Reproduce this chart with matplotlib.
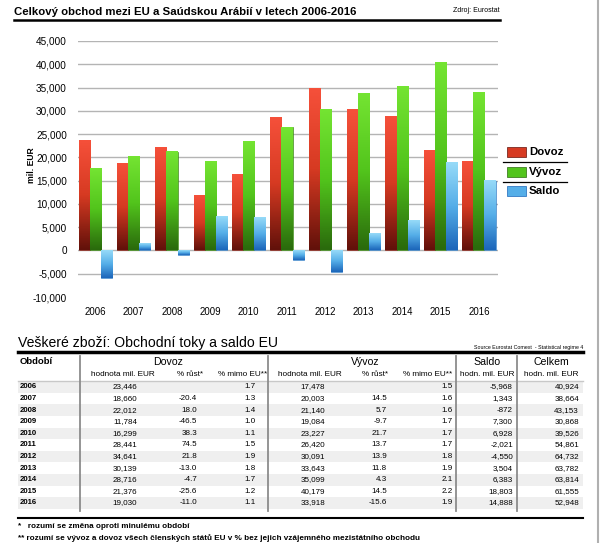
import numpy as np
import matplotlib
matplotlib.use("Agg")
import matplotlib.pyplot as plt
from matplotlib.colors import LinearSegmentedColormap
from matplotlib.patches import Rectangle

plt.rcParams['font.family'] = ['Liberation Sans', 'DejaVu Sans']

# data
roky = ['2006', '2007', '2008', '2009', '2010', '2011', '2012', '2013', '2014', '2015', '2016']
dovoz = [23446, 18660, 22012, 11784, 16299, 28441, 34641, 30139, 28716, 21376, 19030]
dovoz_rust = ['', '-20.4', '18.0', '-46.5', '38.3', '74.5', '21.8', '-13.0', '-4.7', '-25.6', '-11.0']
dovoz_mimo = ['1.7', '1.3', '1.4', '1.0', '1.1', '1.5', '1.9', '1.8', '1.7', '1.2', '1.1']
vyvoz = [17478, 20003, 21140, 19084, 23227, 26420, 30091, 33643, 35099, 40179, 33918]
vyvoz_rust = ['', '14.5', '5.7', '-9.7', '21.7', '13.7', '13.9', '11.8', '4.3', '14.5', '-15.6']
vyvoz_mimo = ['1.5', '1.6', '1.6', '1.7', '1.7', '1.7', '1.8', '1.9', '2.1', '2.2', '1.9']
saldo = [-5968, 1343, -872, 7300, 6928, -2021, -4550, 3504, 6383, 18803, 14888]
celkem = [40924, 38664, 43153, 30868, 39526, 54861, 64732, 63782, 63814, 61555, 52948]
serie = ['Dovoz', 'Vývoz', 'Saldo']

W, H = 603, 543
fig = plt.figure(figsize=(W / 100, H / 100), dpi=100)

# pozadi v pixelech (pro texty a tabulku)
bg = fig.add_axes([0, 0, 1, 1])
bg.set_xlim(0, W)
bg.set_ylim(H, 0)
bg.axis('off')

# nadpis
bg.text(14, 12, 'Celkový obchod mezi EU a Saúdskou Arábií v letech 2006-2016',
        fontsize=8.2, fontweight='bold', va='center', ha='left')
bg.text(500, 11, 'Zdroj: Eurostat', fontsize=5, va='center', ha='right')
bg.plot([14, 500], [20, 20], color='black', lw=1.8)
bg.plot([598, 598], [0, H], color='#b0b0b0', lw=1.5)

# graf
ax = fig.add_axes([78 / W, 1 - 297 / H, 420 / W, 256 / H])
ax.set_facecolor('none')
x = np.arange(len(roky))
w = 0.29

# barvy: horni, stredni, spodni
grads = [('#f5503a', '#d63a22', '#62110a'),
         ('#74e432', '#52c41c', '#2a6a0c'),
         ('#96daf8', '#55aee8', '#1c66ba')]
for i, (vals, (c_top, c_mid, c_bot)) in enumerate(zip([dovoz, vyvoz, saldo], grads)):
    bars = ax.bar(x + (i - 1) * w, vals, w, color=c_top, edgecolor=c_bot, linewidth=0.4, zorder=3)
    cmap = LinearSegmentedColormap.from_list('g%d' % i, [c_bot, c_mid, c_top])
    g = np.linspace(0, 1, 64).reshape(-1, 1)
    for b in bars:
        y0 = min(b.get_y(), b.get_y() + b.get_height())
        y1 = max(b.get_y(), b.get_y() + b.get_height())
        ax.imshow(g, extent=[b.get_x(), b.get_x() + b.get_width(), y0, y1],
                  origin='lower', cmap=cmap, aspect='auto', zorder=3.5)

ax.set_xlim(-0.45, 10.5)
ax.set_ylim(-10000, 45000)
ax.set_yticks(np.arange(-10000, 45001, 5000))
ax.set_yticklabels(['{:,}'.format(v) for v in range(-10000, 45001, 5000)], fontsize=7.2)
ax.set_xticks(x)
ax.set_xticklabels(roky, fontsize=6.9)
ax.tick_params(length=0, pad=7)
ax.tick_params(axis='y', pad=8)
for s in ax.spines.values():
    s.set_visible(False)
ax.yaxis.grid(True, color='#b4b4b4', lw=1)
ax.set_axisbelow(True)
ax.get_ygridlines()[0].set_visible(False)
bg.text(32, 165, 'mil. EUR', rotation=90, fontsize=6.2, fontweight='bold', va='center', ha='center')

# legenda
leg_y = [152, 172, 191]
for (c_top, c_mid, c_bot), nazev, yy in zip(grads, serie, leg_y):
    bg.add_patch(Rectangle((507, yy - 5), 19, 10, facecolor=c_mid, edgecolor=c_bot, lw=0.5))
    bg.text(529, yy, nazev, fontsize=8.2, fontweight='bold', va='center', ha='left')
for yy in [162, 182]:
    bg.plot([503, 567], [yy, yy], color='black', lw=0.9)

# tabulka
bg.text(18, 343, 'Veškeré zboží: Obchodní toky a saldo EU', fontsize=10.1, va='center', ha='left')
bg.text(583, 347, 'Source Eurostat Comext  - Statistical regime 4', fontsize=3.8, va='center', ha='right')
bg.plot([18, 583], [352, 352], color='black', lw=2.5)

bg.text(20, 362, 'Období', fontsize=6.8, fontweight='bold', va='center', ha='left')
for t, xx in [('Dovoz', 168), ('Vývoz', 365), ('Saldo', 487), ('Celkem', 551)]:
    bg.text(xx, 362, t, fontsize=7.6, va='center', ha='center')
sub = [('hodnota mil. EUR', 123), ('% růst*', 190), ('% mimo EU**', 243),
       ('hodnota mil. EUR', 310), ('% růst*', 375), ('% mimo EU**', 428),
       ('hodn. mil. EUR', 487), ('hodn. mil. EUR', 551)]
for t, xx in sub:
    bg.text(xx, 374, t, fontsize=5.9, va='center', ha='center')
bg.plot([18, 583], [381, 381], color='#c8c8c8', lw=1)

row_y = 387 + 11.6 * np.arange(len(roky))
for i, yy in enumerate(row_y):
    if i % 2 == 0:
        bg.add_patch(Rectangle((18, yy - 5.8), 565, 11.6, facecolor='#efefef', edgecolor='none', zorder=0))
    bg.text(20, yy, roky[i], fontsize=5.6, fontweight='bold', va='center', ha='left')
    cols = ['{:,}'.format(dovoz[i]), dovoz_rust[i], dovoz_mimo[i],
            '{:,}'.format(vyvoz[i]), vyvoz_rust[i], vyvoz_mimo[i],
            '{:,}'.format(saldo[i]), '{:,}'.format(celkem[i])]
    for t, xx in zip(cols, [137, 197, 256, 325, 387, 453, 513, 579]):
        bg.text(xx, yy, t, fontsize=5.8, va='center', ha='right')

for xx in [80, 268, 456, 517]:
    bg.plot([xx, xx], [356, 511], color='#8c8c8c', lw=1.3)
bg.plot([18, 583], [518, 518], color='black', lw=1.5)

bg.text(18, 526, '*   rozumí se změna oproti minulému období', fontsize=5.85, fontweight='bold', va='center', ha='left')
bg.text(18, 538, '** rozumí se vývoz a dovoz všech členských států EU v % bez jejich vzájemného mezistátního obchodu',
        fontsize=5.85, fontweight='bold', va='center', ha='left')

plt.savefig('out.png', dpi=100)
